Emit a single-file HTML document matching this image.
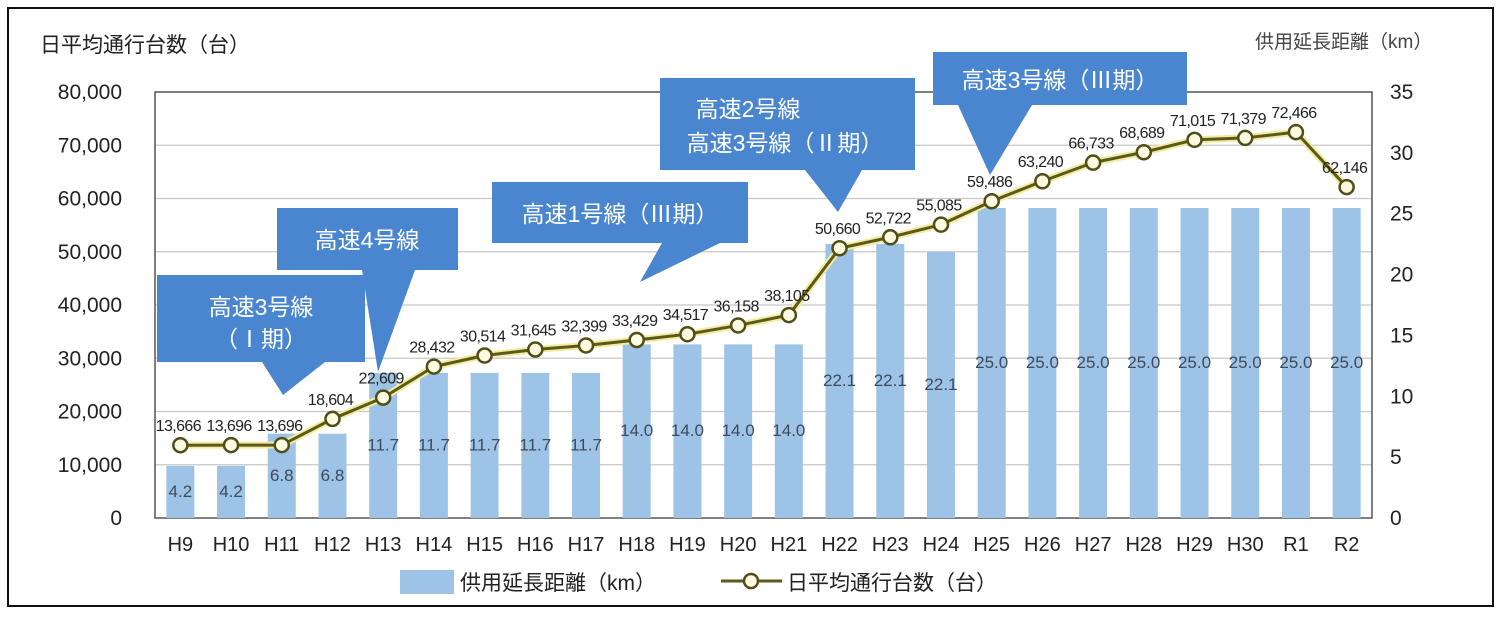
<!DOCTYPE html>
<html><head><meta charset="utf-8"><style>
html,body{margin:0;padding:0;background:#fff;}
svg{display:block;font-family:"Liberation Sans","Noto Sans CJK JP",sans-serif;}
</style></head><body>
<svg width="1500" height="617" viewBox="0 0 1500 617" xmlns="http://www.w3.org/2000/svg">
<rect x="8" y="8" width="1485" height="598" fill="#fff" stroke="#111" stroke-width="2"/>
<g id="grid" stroke="#c8c8c8" stroke-width="1.3"></g>
<rect x="155" y="92" width="1217" height="426" fill="none" stroke="#555" stroke-width="1.5"/>
<g id="bars" fill="#9dc3e6"></g>
<g id="blabels" font-size="17" fill="#3d4a5c" text-anchor="middle"></g>
<polyline id="glow" fill="none" stroke="#f3ec9e" stroke-width="7" stroke-linejoin="round"/>
<polyline id="line" fill="none" stroke="#5b5a1c" stroke-width="3" stroke-linejoin="round"/>
<g id="marks" fill="#fffbe0" stroke="#4f4e18" stroke-width="2.5"></g>
<g id="vlabels" font-size="16" fill="#222" text-anchor="middle" letter-spacing="-0.6"></g>
<g id="ylab" font-size="21" fill="#222" text-anchor="end"></g>
<g id="rlab" font-size="21" fill="#222" text-anchor="start"></g>
<g id="xlab" font-size="20" fill="#222" text-anchor="middle"></g>
<text x="40" y="52" font-size="21" fill="#222">日平均通行台数（台）</text>
<text x="1255" y="48" font-size="19" fill="#444">供用延長距離（km）</text>
<g fill="#4a86d0">
<path d="M157,275 H365 V362 H325 L283,395 L262,362 H157 Z"/>
<path d="M277,208 H458 V270 H415 L378,372 L362,270 H277 Z"/>
<path d="M492,182 H748 V243 H720 L640,282 L662,243 H492 Z"/>
<path d="M660,78 H915 V170 H862 L838,212 L805,170 H660 Z"/>
<path d="M933,52 H1187 V105 H1032 L990,175 L958,105 H933 Z"/>
</g>
<g fill="#fff" font-size="23" text-anchor="middle">
<text x="261" y="315">高速3号線</text>
<text x="261" y="347">（Ⅰ期）</text>
<text x="367" y="248">高速4号線</text>
<text x="620" y="222">高速1号線（Ⅲ期）</text>
<text x="748" y="117">高速2号線</text>
<text x="785" y="151">高速3号線（Ⅱ期）</text>
<text x="1060" y="88">高速3号線（Ⅲ期）</text>
</g>
<rect x="400" y="570" width="54" height="24" fill="#9dc3e6"/>
<text x="460" y="590" font-size="21" fill="#222">供用延長距離（km）</text>
<line x1="721" y1="581" x2="782" y2="581" stroke="#5b5a1c" stroke-width="3"/>
<circle cx="751" cy="581" r="7" fill="#fffbe0" stroke="#4f4e18" stroke-width="2.5"/>
<text x="787" y="590" font-size="21" fill="#222">日平均通行台数（台）</text>
</svg>
<script>
const ns="http://www.w3.org/2000/svg";
function el(p,t,a,txt){const e=document.createElementNS(ns,t);for(const k in a)e.setAttribute(k,a[k]);if(txt!==undefined)e.textContent=txt;document.getElementById(p).appendChild(e);return e;}
const L=155,R=1372,T=92,B=518,n=24,step=(R-L)/n;
const labs=["H9","H10","H11","H12","H13","H14","H15","H16","H17","H18","H19","H20","H21","H22","H23","H24","H25","H26","H27","H28","H29","H30","R1","R2"];
const vals=[13666,13696,13696,18604,22609,28432,30514,31645,32399,33429,34517,36158,38105,50660,52722,55085,59486,63240,66733,68689,71015,71379,72466,62146];
const km=[4.2,4.2,6.8,6.8,11.7,11.7,11.7,11.7,11.7,14.0,14.0,14.0,14.0,22.1,22.1,22.1,25,25,25,25,25,25,25,25];
const yL=v=>B-v/80000*(B-T), yR=v=>B-v/35*(B-T), yB=v=>B-v*12.4;
for(let i=1;i<8;i++){const y=yL(i*10000);el("grid","line",{x1:L,x2:R,y1:y,y2:y});}
for(let i=0;i<=8;i++){el("ylab","text",{x:122,y:yL(i*10000)+7},i==0?"0":(i*10)+",000");}
for(let i=0;i<=7;i++){el("rlab","text",{x:1390,y:yR(i*5)+7},String(i*5));}
let pts=[];
for(let i=0;i<n;i++){
 const cx=L+step*(i+0.5);
 const by=yB(km[i])-(i==15?-8:0);
 el("bars","rect",{x:cx-14,y:by,width:28,height:B-by});
 el("blabels","text",{x:cx,y:(by+B)/2+5},km[i].toFixed(1));
 const vy=yL(vals[i]);pts.push(cx+","+vy);
 el("marks","circle",{cx:cx,cy:vy,r:7});
 el("vlabels","text",{x:cx-2,y:vy-14},vals[i].toLocaleString("en-US"));
 el("xlab","text",{x:cx,y:551},labs[i]);
}
document.getElementById("line").setAttribute("points",pts.join(" "));
document.getElementById("glow").setAttribute("points",pts.join(" "));
</script>
</body></html>
